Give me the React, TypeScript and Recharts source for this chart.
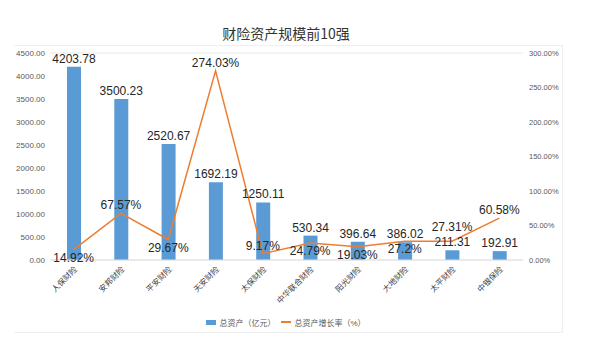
import React from "react";
import {
  ComposedChart,
  Bar,
  Line,
  XAxis,
  YAxis,
  CartesianGrid,
  Legend,
  LabelList,
} from "recharts";

const categories = ["人保财险", "安邦财险", "平安财险", "天安财险", "太保财险", "中华联合财险", "阳光财险", "大地财险", "太平财险", "中银保险"];
const totalAssets = [4203.78, 3500.23, 2520.67, 1692.19, 1250.11, 530.34, 396.64, 386.02, 211.31, 192.91];
const growthRates = [14.92, 67.57, 29.67, 274.03, 9.17, 24.79, 19.03, 27.2, 27.31, 60.58];
const assetTicks = [0, 500, 1000, 1500, 2000, 2500, 3000, 3500, 4000, 4500];
const rateTicks = [0, 50, 100, 150, 200, 250, 300];
// vertical shift of each growth label from its point (label placement only)
const rateLabelDy = [12, -4, 12, -4, -4, 12, 12, 12, -10, -4];

const data = categories.map((name, i) => ({
  name,
  assets: totalAssets[i],
  rate: growthRates[i],
}));

const FONT = "'Liberation Sans', Arial, 'Noto Sans CJK SC', sans-serif";
const BAR = "#5b9bd5";
const LINE = "#ed7d31";

const XTick = (props: any) => {
  const { x, y, payload } = props;
  return (
    <g transform={`translate(${x + 4},${y + 2})`}>
      <text transform="rotate(-45)" textAnchor="end" fontSize={8} fill="#404040" fontFamily={FONT}>
        {payload.value}
      </text>
    </g>
  );
};

const RateLabel = (props: any) => {
  const { x, y, value, index } = props;
  const i = typeof index === "number" ? index : growthRates.indexOf(value);
  return (
    <text x={x} y={y + rateLabelDy[i]} textAnchor="middle" fontSize={12} fill="#262626" fontFamily={FONT}>
      {`${value}%`}
    </text>
  );
};

const renderLegend = () => (
  <div
    style={{
      display: "flex",
      justifyContent: "center",
      alignItems: "center",
      height: 14,
      fontSize: 8,
      color: "#595959",
      fontFamily: FONT,
    }}
  >
    <span style={{ display: "inline-block", width: 10, height: 5, background: BAR }} />
    <span style={{ marginLeft: 3 }}>总资产（亿元）</span>
    <span style={{ display: "inline-block", width: 10, height: 1.5, background: LINE, marginLeft: 6 }} />
    <span style={{ marginLeft: 3 }}>总资产增长率（%）</span>
  </div>
);

export default function App() {
  return (
    <div style={{ position: "absolute", left: 0, top: 0, width: 594, height: 352, background: "#fff" }}>
      <div
        style={{
          position: "absolute",
          left: 14,
          top: 45,
          width: 549,
          height: 288,
          borderTop: "1px solid #efefef",
          borderRight: "1px solid #efefef",
          borderBottom: "1px solid #efefef",
          boxSizing: "border-box",
        }}
      />
      <div
        style={{
          position: "absolute",
          left: 0,
          width: 572,
          top: 24,
          lineHeight: "18px",
          textAlign: "center",
          fontSize: 14,
          color: "#333",
          fontFamily: "'Noto Sans CJK SC', sans-serif",
        }}
      >
        财险资产规模前10强
      </div>
      <ComposedChart
        width={594}
        height={352}
        data={data}
        margin={{ top: 53, right: 0, left: 0, bottom: 23 }}
        style={{ position: "absolute", left: 0, top: 0 }}
      >
        <CartesianGrid vertical={false} stroke="#e8e8e8" />
        <XAxis
          dataKey="name"
          interval={0}
          height={55}
          tick={<XTick />}
          tickLine={false}
          axisLine={{ stroke: "#e0e0e0" }}
        />
        <YAxis
          yAxisId="left"
          width={50}
          domain={[0, 4500]}
          ticks={assetTicks}
          tickFormatter={(v: number) => v.toFixed(2)}
          tick={{ fontSize: 8, fill: "#595959", fontFamily: FONT }}
          tickSize={3}
          tickMargin={2}
          axisLine={false}
          tickLine={false}
        />
        <YAxis
          yAxisId="right"
          orientation="right"
          width={71}
          domain={[0, 300]}
          ticks={rateTicks}
          tickFormatter={(v: number) => `${v.toFixed(2)}%`}
          tick={{ fontSize: 7.5, fill: "#595959", fontFamily: FONT, textAnchor: "start" }}
          tickSize={3}
          tickMargin={3}
          axisLine={false}
          tickLine={false}
        />
        <Legend
          verticalAlign="bottom"
          content={renderLegend}
          wrapperStyle={{ left: 0, width: 572 }}
        />
        <Bar yAxisId="left" dataKey="assets" name="总资产（亿元）" fill={BAR} barSize={14} isAnimationActive={false}>
          <LabelList
            dataKey="assets"
            position="top"
            offset={4}
            formatter={(v: any) => Number(v).toFixed(2)}
            style={{ fontSize: 12, fill: "#262626", fontFamily: FONT }}
          />
        </Bar>
        <Line
          yAxisId="right"
          dataKey="rate"
          name="总资产增长率（%）"
          stroke={LINE}
          strokeWidth={1.5}
          dot={false}
          activeDot={false}
          type="linear"
          isAnimationActive={false}
        >
          <LabelList dataKey="rate" content={<RateLabel />} />
        </Line>
      </ComposedChart>
    </div>
  );
}
